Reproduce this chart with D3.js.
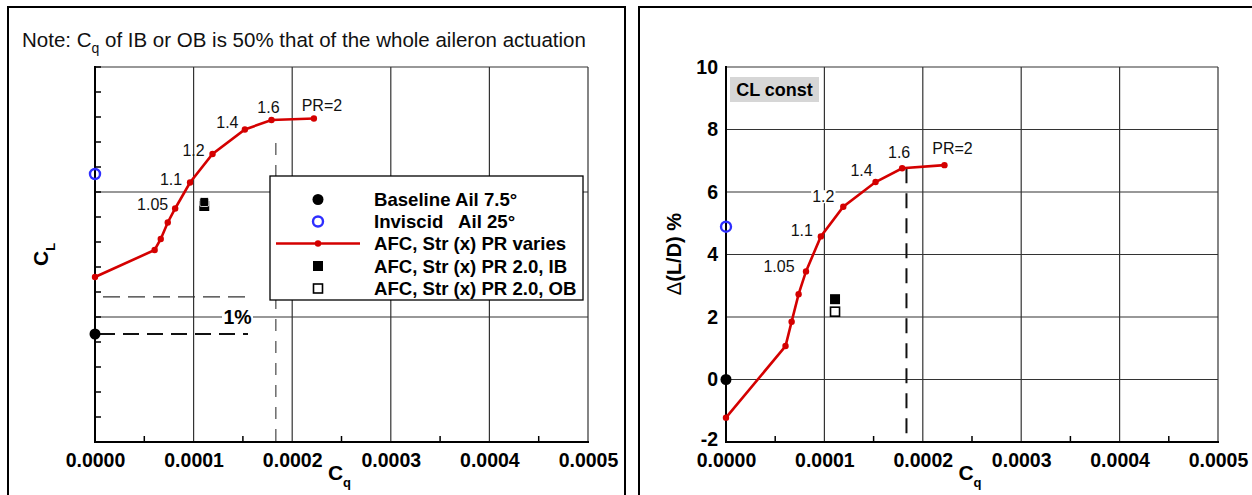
<!DOCTYPE html>
<html>
<head>
<meta charset="utf-8">
<script src="https://cdn.jsdelivr.net/npm/d3@7"></script>
<style>
  html, body { margin: 0; padding: 0; background: #fff; }
  svg { display: block; font-family: Arial, "Liberation Sans", sans-serif; }
</style>
</head>
<body>
<svg id="chart" width="1252" height="495"></svg>
<script>
// ---------------- DATA ----------------
const xTickLabels = ["0.0000", "0.0001", "0.0002", "0.0003", "0.0004", "0.0005"];
const xTickValues = [0, 0.0001, 0.0002, 0.0003, 0.0004, 0.0005];
const ldTickValues = [-2, 0, 2, 4, 6, 8, 10];
const ldTickLabels = ["-2", "0", "2", "4", "6", "8", "10"];

// AFC, Str (x) PR varies
const afcCq = [0, 0.0000605, 0.0000667, 0.0000738, 0.0000813, 0.0000964, 0.0001192, 0.000152, 0.000179, 0.000222];
const afcCL = [0.7530, 0.7584, 0.7606, 0.7639, 0.7667, 0.7719, 0.7776, 0.7825, 0.7844, 0.7847];
const afcLD = [-1.22, 1.07, 1.85, 2.73, 3.46, 4.58, 5.53, 6.32, 6.76, 6.86];
const prLabels = ["", "", "", "", "1.05", "1.1", "1.2", "1.4", "1.6", "PR=2"];

// Baseline Ail 7.5°
const baselineCq = [0];
const baselineCL = [0.7416];
const baselineLD = [0];
// Inviscid Ail 25°
const inviscidCq = [0];
const inviscidCL = [0.7736];
const inviscidLD = [4.89];
// AFC PR 2.0 IB / OB
const ibCq = [0.0001108];
const ibCL = [0.7672];
const ibLD = [2.57];
const obCq = [0.0001108];
const obCL = [0.7680];
const obLD = [2.17];

// reference markers
const onePctCL = [0.7416 * 1.01];   // 1% above baseline
const refCq = [0.0001834];          // vertical dashed reference

const legendLabels = ["Baseline Ail 7.5°", "Inviscid   Ail 25°", "AFC, Str (x) PR varies",
                      "AFC, Str (x) PR 2.0, IB", "AFC, Str (x) PR 2.0, OB"];

// ---------------- DRAWING ----------------
const svg = d3.select("#chart");
const RED = "#d40000", BLUE = "#2e2eff", GRID = "#333";

// panel frames
svg.append("rect").attr("x", 8).attr("y", 7).attr("width", 617).attr("height", 520)
  .attr("fill", "none").attr("stroke", "#000").attr("stroke-width", 2);
svg.append("rect").attr("x", 639).attr("y", 7).attr("width", 640).attr("height", 520)
  .attr("fill", "none").attr("stroke", "#000").attr("stroke-width", 2);

function panel(opts) {
  const g = svg.append("g");
  const x = d3.scaleLinear().domain([0, 0.0005]).range(opts.xr);
  const y = d3.scaleLinear().domain(opts.yd).range([442, 67]);
  const [x0, x1] = opts.xr;

  // grid
  xTickValues.slice(1).forEach(v => {
    g.append("line").attr("x1", x(v)).attr("x2", x(v)).attr("y1", y.range()[0]).attr("y2", y.range()[1])
      .attr("stroke", GRID).attr("stroke-width", 1.2);
  });
  opts.gridY.forEach(v => {
    g.append("line").attr("x1", x0).attr("x2", x1).attr("y1", y(v)).attr("y2", y(v))
      .attr("stroke", GRID).attr("stroke-width", 1.2);
  });

  // x axis with labels
  const xa = g.append("g").attr("transform", `translate(0,442)`)
    .call(d3.axisBottom(x).tickValues(xTickValues).tickFormat((d, i) => xTickLabels[i]).tickSize(0).tickPadding(11));
  xa.select(".domain").remove();
  xa.selectAll("text").attr("font-size", 19.5).attr("font-weight", "bold").attr("fill", "#000")
    .attr("font-family", "Arial, 'Liberation Sans', sans-serif");
  // minor x ticks (inward)
  d3.range(0.00005, 0.0005, 0.0001).forEach(v => {
    g.append("line").attr("x1", x(v)).attr("x2", x(v)).attr("y1", 442).attr("y2", 436)
      .attr("stroke", "#000").attr("stroke-width", 1.5);
  });
  // axis lines
  g.append("line").attr("x1", x0).attr("x2", x1 + 1).attr("y1", 442).attr("y2", 442).attr("stroke", "#000").attr("stroke-width", 2);
  g.append("line").attr("x1", x0).attr("x2", x0).attr("y1", 66).attr("y2", 443).attr("stroke", "#000").attr("stroke-width", 2);

  // x title
  const xt = g.append("text").attr("x", (x0 + x1) / 2 - 2).attr("y", 480).attr("text-anchor", "middle")
    .attr("font-size", 21).attr("font-weight", "bold");
  xt.append("tspan").text("C");
  xt.append("tspan").attr("font-size", 13).attr("dy", 7).text("q");
  return { g, x, y };
}

// ---------- LEFT PANEL ----------
const L = panel({ xr: [95, 588], yd: [0.72, 0.795], gridY: [0.745, 0.77, 0.795] });
// minor y ticks
d3.range(0.725, 0.795, 0.005).forEach(v => {
  L.g.append("line").attr("x1", 95).attr("x2", 101).attr("y1", L.y(v)).attr("y2", L.y(v))
    .attr("stroke", "#000").attr("stroke-width", 1.5);
});
// y title
const lyt = L.g.append("text").attr("transform", "translate(48,266) rotate(-90)")
  .attr("font-size", 21).attr("font-weight", "bold");
lyt.append("tspan").text("C");
lyt.append("tspan").attr("font-size", 13).attr("dy", 7).text("L");

// note
const note = svg.append("text").attr("x", 22).attr("y", 47).attr("font-size", 20.5).attr("fill", "#111");
note.append("tspan").text("Note: C");
note.append("tspan").attr("font-size", 14).attr("dy", 6).text("q");
note.append("tspan").attr("dy", -6).text(" of IB or OB is 50% that of the whole aileron actuation");

// 1% dashed lines
L.g.append("line").attr("x1", L.x(0)).attr("x2", 248).attr("y1", L.y(onePctCL[0])).attr("y2", L.y(onePctCL[0]))
  .attr("stroke", "#333").attr("stroke-width", 1.3).attr("stroke-dasharray", "17,8").attr("stroke-dashoffset", -8);
L.g.append("line").attr("x1", L.x(0)).attr("x2", 248).attr("y1", L.y(baselineCL[0])).attr("y2", L.y(baselineCL[0]))
  .attr("stroke", "#111").attr("stroke-width", 2.2).attr("stroke-dasharray", "16,8").attr("stroke-dashoffset", -4);
// 1% label with white background
L.g.append("rect").attr("x", 222).attr("y", 307).attr("width", 31).attr("height", 20).attr("fill", "#fff");
L.g.append("text").attr("x", 237.5).attr("y", L.y(0.745) + 7).attr("text-anchor", "middle")
  .attr("font-size", 19.5).attr("font-weight", "bold").text("1%");
// vertical ref dashed
L.g.append("line").attr("x1", L.x(refCq[0])).attr("x2", L.x(refCq[0])).attr("y1", 143).attr("y2", 442)
  .attr("stroke", "#555").attr("stroke-width", 1.3).attr("stroke-dasharray", "12,10");

// curve
const lineL = d3.line().x(d => L.x(d[0])).y(d => L.y(d[1]));
const afcL = afcCq.map((c, i) => [c, afcCL[i]]);
L.g.append("path").datum(afcL).attr("d", lineL).attr("fill", "none").attr("stroke", RED).attr("stroke-width", 2.6);
L.g.selectAll(".dl").data(afcL).enter().append("circle").attr("cx", d => L.x(d[0])).attr("cy", d => L.y(d[1]))
  .attr("r", 3.2).attr("fill", RED);
const offL = [null, null, null, null, [-22.5, -4], [-19, -3], [-19, -4], [-17.5, -6.6], [-3, -13], [8, -13]];
afcL.forEach((d, i) => {
  if (!prLabels[i]) return;
  L.g.append("text").attr("x", L.x(d[0]) + offL[i][0]).attr("y", L.y(d[1]) + offL[i][1] + 5.5)
    .attr("text-anchor", "middle").attr("font-size", 16).attr("fill", "#111").text(prLabels[i]);
});
// markers
L.g.append("circle").attr("cx", L.x(baselineCq[0])).attr("cy", L.y(baselineCL[0])).attr("r", 5.5).attr("fill", "#000");
L.g.append("circle").attr("cx", L.x(inviscidCq[0])).attr("cy", L.y(inviscidCL[0])).attr("r", 5).attr("fill", "none")
  .attr("stroke", BLUE).attr("stroke-width", 2.4);
L.g.append("rect").attr("x", L.x(ibCq[0]) - 5).attr("y", L.y(ibCL[0]) - 5).attr("width", 10).attr("height", 10).attr("fill", "#000");
L.g.append("rect").attr("x", L.x(obCq[0]) - 4.5).attr("y", L.y(obCL[0]) - 4.5).attr("width", 9).attr("height", 9)
  .attr("fill", "#000").attr("stroke", "#fff").attr("stroke-width", 0.8).attr("rx", 1.5);

// legend
const lg = svg.append("g");
lg.append("rect").attr("x", 270).attr("y", 176).attr("width", 313).attr("height", 124)
  .attr("fill", "#fff").attr("stroke", "#000").attr("stroke-width", 1.3);
const rowY = [199.5, 221.5, 243.5, 266, 288.5];
lg.append("circle").attr("cx", 318).attr("cy", rowY[0]).attr("r", 5.5).attr("fill", "#000");
lg.append("circle").attr("cx", 318).attr("cy", rowY[1]).attr("r", 5).attr("fill", "none").attr("stroke", BLUE).attr("stroke-width", 2.4);
lg.append("line").attr("x1", 276).attr("x2", 360).attr("y1", rowY[2]).attr("y2", rowY[2]).attr("stroke", RED).attr("stroke-width", 2.6);
lg.append("circle").attr("cx", 318).attr("cy", rowY[2]).attr("r", 3.2).attr("fill", RED);
lg.append("rect").attr("x", 313).attr("y", rowY[3] - 5).attr("width", 10).attr("height", 10).attr("fill", "#000");
lg.append("rect").attr("x", 313.5).attr("y", rowY[4] - 4.5).attr("width", 9).attr("height", 9).attr("fill", "#fff")
  .attr("stroke", "#000").attr("stroke-width", 1.6);
legendLabels.forEach((t, i) => {
  lg.append("text").attr("x", 374).attr("y", rowY[i] + 6.5).attr("font-size", 18.6).attr("font-weight", "bold")
    .attr("xml:space", "preserve").style("white-space", "pre").text(t);
});

// ---------- RIGHT PANEL ----------
const R = panel({ xr: [726, 1218], yd: [-2, 10], gridY: [0, 2, 4, 6, 8, 10] });
// y tick labels
const ya = R.g.append("g").attr("transform", "translate(726,0)")
  .call(d3.axisLeft(R.y).tickValues(ldTickValues).tickFormat((d, i) => ldTickLabels[i]).tickSize(0).tickPadding(8));
ya.select(".domain").remove();
ya.selectAll("text").attr("font-size", 19.5).attr("font-weight", "bold").attr("fill", "#000")
  .attr("font-family", "Arial, 'Liberation Sans', sans-serif");
ya.selectAll("text").filter((d, i) => i === 0).attr("dy", "0.2em");
// y title
const ryt = R.g.append("text").attr("transform", "translate(681,254) rotate(-90)").attr("text-anchor", "middle")
  .attr("font-size", 20).attr("font-weight", "bold");
ryt.append("tspan").attr("font-weight", "normal").text("\u0394");
ryt.append("tspan").text("(L/D) %");

// CL const box
R.g.append("rect").attr("x", 730).attr("y", 77).attr("width", 89).attr("height", 25).attr("fill", "#d6d6d6");
R.g.append("text").attr("x", 774.5).attr("y", 96).attr("text-anchor", "middle").attr("font-size", 18)
  .attr("font-weight", "bold").text("CL const");

// vertical ref dashed
R.g.append("line").attr("x1", R.x(refCq[0])).attr("x2", R.x(refCq[0])).attr("y1", R.y(afcLD[8])).attr("y2", 442)
  .attr("stroke", "#111").attr("stroke-width", 2).attr("stroke-dasharray", "15,10");

const afcR = afcCq.map((c, i) => [c, afcLD[i]]);
const offR = [null, null, null, null, [-27, -5], [-19, -6], [-20, -10], [-14, -12], [-3, -16], [8, -17]];
afcR.forEach((d, i) => {
  if (!prLabels[i]) return;
  const cx = R.x(d[0]) + offR[i][0], cy = R.y(d[1]) + offR[i][1];
  const t = R.g.append("text").attr("x", cx).attr("y", cy + 5.5).attr("text-anchor", "middle")
    .attr("font-size", 16).attr("fill", "#111").text(prLabels[i]);
  const bb = t.node().getBBox();
  R.g.insert("rect", () => t.node()).attr("x", bb.x - 1).attr("y", bb.y + 2).attr("width", bb.width + 2).attr("height", bb.height - 4).attr("fill", "#fff");
});
const lineR = d3.line().x(d => R.x(d[0])).y(d => R.y(d[1]));
R.g.append("path").datum(afcR).attr("d", lineR).attr("fill", "none").attr("stroke", RED).attr("stroke-width", 2.6);
afcR.forEach(d => R.g.append("circle").attr("cx", R.x(d[0])).attr("cy", R.y(d[1])).attr("r", 3.2).attr("fill", RED));

R.g.append("circle").attr("cx", R.x(baselineCq[0])).attr("cy", R.y(baselineLD[0])).attr("r", 5.5).attr("fill", "#000");
R.g.append("circle").attr("cx", R.x(inviscidCq[0])).attr("cy", R.y(inviscidLD[0])).attr("r", 5).attr("fill", "none")
  .attr("stroke", BLUE).attr("stroke-width", 2.4);
R.g.append("rect").attr("x", R.x(ibCq[0]) - 5).attr("y", R.y(ibLD[0]) - 5).attr("width", 10).attr("height", 10).attr("fill", "#000");
R.g.append("rect").attr("x", R.x(obCq[0]) - 4.5).attr("y", R.y(obLD[0]) - 4.5).attr("width", 9).attr("height", 9)
  .attr("fill", "#fff").attr("stroke", "#000").attr("stroke-width", 1.6);
</script>
</body>
</html>
